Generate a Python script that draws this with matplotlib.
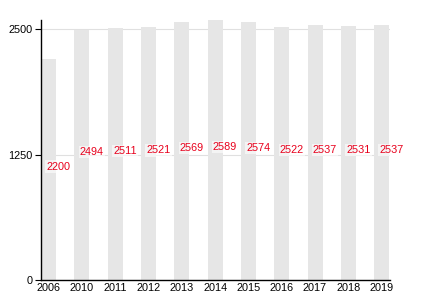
import numpy as np
import matplotlib.pyplot as plt

plt.rcParams['font.family'] = ['Liberation Sans', 'DejaVu Sans']

years = ['2006', '2010', '2011', '2012', '2013', '2014', '2015',
         '2016', '2017', '2018', '2019']
population = [2200, 2494, 2511, 2521, 2569, 2589, 2574, 2522, 2537, 2531, 2537]
yticks = [0, 1250, 2500]

fig = plt.figure(figsize=(4.3, 3.0), dpi=100)
ax = fig.add_axes([0.0953, 0.0667, 0.8117, 0.8667])

x = np.arange(len(years))
ax.bar(x, population, width=0.45, color='#e6e6e6', zorder=2)

# labels sit at half height, nudged to the right of each bar
for xi, v in zip(x, population):
    ax.text(xi + 0.3, v / 2, str(v), color='#e8001c', fontsize=7.8,
            ha='center', va='baseline', zorder=3,
            bbox=dict(facecolor='white', edgecolor='none', alpha=0.6, pad=0.8))

ax.set_xlim(-0.225, 10.25)
ax.set_ylim(0, 2590)
ax.set_xticks(x)
ax.set_xticklabels(years)
ax.set_yticks(yticks)
ax.tick_params(axis='x', length=0, labelsize=7.8, pad=2)
ax.tick_params(axis='y', length=4, labelsize=7.8, pad=2)
ax.yaxis.grid(True, color='#e0e0e0', linewidth=0.8, zorder=0)
ax.set_axisbelow(True)

for s in ['top', 'right']:
    ax.spines[s].set_visible(False)
ax.spines['left'].set_linewidth(1)
ax.spines['bottom'].set_linewidth(1)

fig.savefig('out.png', dpi=100)
